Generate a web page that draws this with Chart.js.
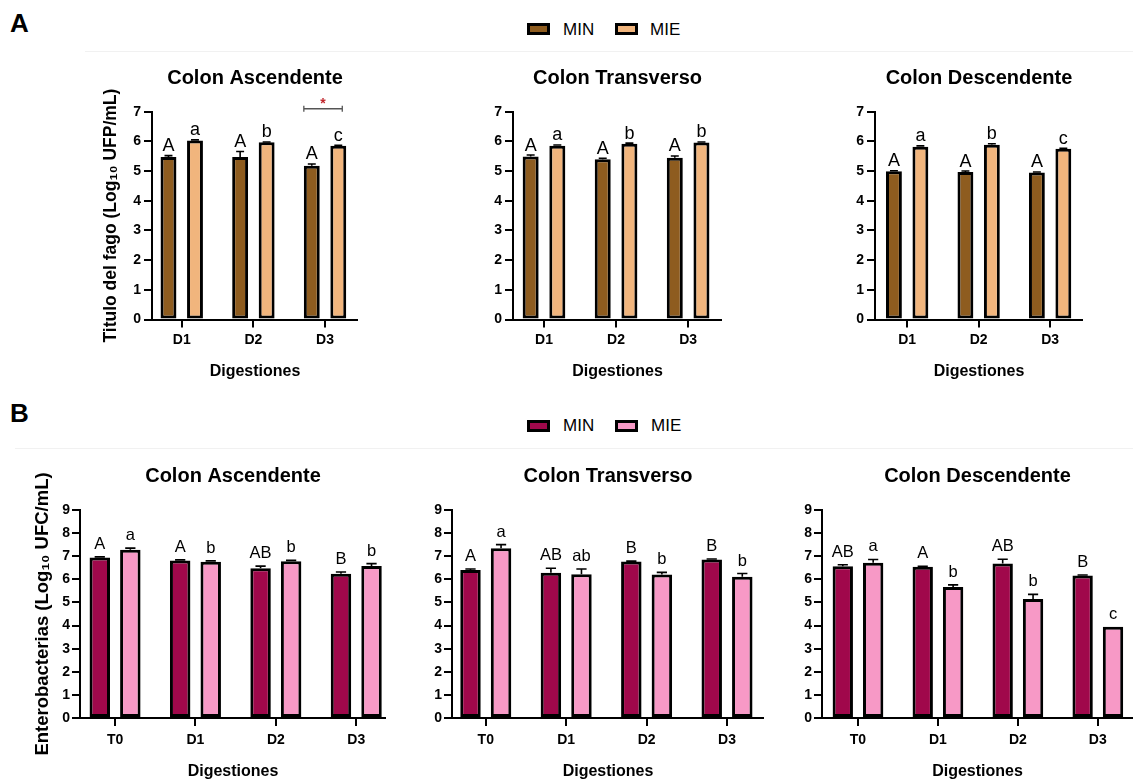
<!DOCTYPE html>
<html>
<head>
<meta charset="utf-8">
<script src="https://cdn.jsdelivr.net/npm/chart.js@4.4.1/dist/chart.umd.min.js"></script>
<style>
  html, body { margin: 0; padding: 0; background: #fff; }
  body { width: 1133px; height: 782px; position: relative; overflow: hidden;
         font-family: "Liberation Sans", Arial, sans-serif; color: #000; }
  canvas { position: absolute; }
  .panel { position: absolute; font-weight: bold; font-size: 26px; line-height: 1; }
  .sw { position: absolute; box-sizing: border-box; width: 23px; height: 12px; border: 3px solid #000; }
  .lt { position: absolute; font-size: 17px; line-height: 1; }
  .rule { position: absolute; height: 1px; background: #f1f1f1; }
</style>
</head>
<body>
<div class="rule" style="left:85px; top:51px; width:1048px;"></div>
<div class="rule" style="left:15px; top:448px; width:1118px;"></div>

<div class="panel" style="left:10px; top:10px;">A</div>
<div class="panel" style="left:10px; top:400px;">B</div>

<div class="sw" style="left:527px; top:23px; background:#8E5C1F;"></div>
<div class="lt" style="left:563px; top:21px;">MIN</div>
<div class="sw" style="left:615px; top:23px; background:#F1B57D;"></div>
<div class="lt" style="left:650px; top:21px;">MIE</div>

<div class="sw" style="left:527px; top:420px; background:#A0084B;"></div>
<div class="lt" style="left:563px; top:417px;">MIN</div>
<div class="sw" style="left:615px; top:420px; background:#F799C6;"></div>
<div class="lt" style="left:651px; top:417px;">MIE</div>

<canvas id="a1"></canvas>
<canvas id="a2"></canvas>
<canvas id="a3"></canvas>
<canvas id="b1"></canvas>
<canvas id="b2"></canvas>
<canvas id="b3"></canvas>

<script>
const FAMILY = '"Liberation Sans", Arial, sans-serif';

// ---- Phage titre (Log10 UFP/mL) ----
const digestionesA = ['D1', 'D2', 'D3'];

const fagoAscMIN    = [5.47, 5.47, 5.18];
const fagoAscMINsem = [0.05, 0.19, 0.06];
const fagoAscMIE    = [6.03, 5.97, 5.85];
const fagoAscMIEsem = [0.02, 0.01, 0.02];
const fagoAscMINlet = ['A', 'A', 'A'];
const fagoAscMIElet = ['a', 'b', 'c'];

const fagoTraMIN    = [5.49, 5.40, 5.45];
const fagoTraMINsem = [0.05, 0.03, 0.06];
const fagoTraMIE    = [5.85, 5.92, 5.96];
const fagoTraMIEsem = [0.03, 0.02, 0.02];
const fagoTraMINlet = ['A', 'A', 'A'];
const fagoTraMIElet = ['a', 'b', 'b'];

const fagoDesMIN    = [4.99, 4.97, 4.95];
const fagoDesMINsem = [0.02, 0.03, 0.02];
const fagoDesMIE    = [5.82, 5.89, 5.75];
const fagoDesMIEsem = [0.03, 0.03, 0.02];
const fagoDesMINlet = ['A', 'A', 'A'];
const fagoDesMIElet = ['a', 'b', 'c'];

// ---- Enterobacteria (Log10 UFC/mL) ----
const digestionesB = ['T0', 'D1', 'D2', 'D3'];

const entAscMIN    = [6.95, 6.82, 6.48, 6.24];
const entAscMINsem = [0.02, 0.02, 0.09, 0.08];
const entAscMIE    = [7.28, 6.76, 6.78, 6.58];
const entAscMIEsem = [0.07, 0.04, 0.04, 0.10];
const entAscMINlet = ['A', 'A', 'AB', 'B'];
const entAscMIElet = ['a', 'b', 'b', 'b'];

const entTraMIN    = [6.40, 6.28, 6.77, 6.86];
const entTraMINsem = [0.05, 0.20, 0.02, 0.02];
const entTraMIE    = [7.35, 6.22, 6.21, 6.11];
const entTraMIEsem = [0.15, 0.23, 0.09, 0.14];
const entTraMINlet = ['A', 'AB', 'B', 'B'];
const entTraMIElet = ['a', 'ab', 'b', 'b'];

const entDesMIN    = [6.57, 6.54, 6.69, 6.17];
const entDesMINsem = [0.06, 0.02, 0.18, 0.02];
const entDesMIE    = [6.72, 5.67, 5.15, 3.95];
const entDesMIEsem = [0.14, 0.09, 0.20, 0.00];
const entDesMINlet = ['AB', 'A', 'AB', 'B'];
const entDesMIElet = ['a', 'b', 'b', 'c'];

// significance bracket between MIN and MIE (colon ascendente, D3)
const fagoAscBracket = { index: 2, level: 7.1, mark: '*' };

// Error bars, letters of significance and the optional bracket
const barNotes = {
  id: 'barNotes',
  afterDatasetsDraw(chart, args, opts) {
    const ctx = chart.ctx;
    const yScale = chart.scales.y;
    ctx.save();
    chart.data.datasets.forEach((ds, di) => {
      const meta = chart.getDatasetMeta(di);
      meta.data.forEach((bar, i) => {
        const v = ds.data[i].y;
        const e = ds.errors[i] || 0;
        const yTop = yScale.getPixelForValue(v + e);
        if (e > 0) {
          const cap = bar.width * 0.5;
          ctx.strokeStyle = '#000';
          ctx.lineWidth = 1.6;
          ctx.beginPath();
          ctx.moveTo(bar.x, bar.y);
          ctx.lineTo(bar.x, yTop);
          ctx.moveTo(bar.x - cap / 2, yTop);
          ctx.lineTo(bar.x + cap / 2, yTop);
          ctx.stroke();
        }
        ctx.fillStyle = '#000';
        ctx.font = opts.letterSize + 'px ' + FAMILY;
        ctx.textAlign = 'center';
        ctx.textBaseline = 'alphabetic';
        ctx.fillText(ds.letters[i], bar.x, yTop - opts.letterGap);
      });
    });
    const br = opts.bracket;
    if (br) {
      const b0 = chart.getDatasetMeta(0).data[br.index];
      const b1 = chart.getDatasetMeta(1).data[br.index];
      const x1 = b0.x - b0.width / 2;
      const x2 = b1.x + b1.width / 4;
      const yl = yScale.getPixelForValue(br.level);
      ctx.strokeStyle = '#555';
      ctx.lineWidth = 1.3;
      ctx.beginPath();
      ctx.moveTo(x1, yl); ctx.lineTo(x2, yl);
      ctx.moveTo(x1, yl - 3); ctx.lineTo(x1, yl + 3);
      ctx.moveTo(x2, yl - 3); ctx.lineTo(x2, yl + 3);
      ctx.stroke();
      ctx.fillStyle = '#C1272D';
      ctx.font = 'bold 14px ' + FAMILY;
      ctx.textAlign = 'center';
      ctx.textBaseline = 'alphabetic';
      ctx.fillText(br.mark, (x1 + x2) / 2, yl - 1);
    }
    ctx.restore();
  }
};

function buildPanel(p) {
  const cv = document.getElementById(p.id);
  cv.width = p.width; cv.height = p.height;
  cv.style.left = p.left + 'px'; cv.style.top = p.top + 'px';
  cv.style.width = p.width + 'px'; cv.style.height = p.height + 'px';

  const mk = (label, vals, errs, lets, color) => ({
    label,
    data: p.cats.map((c, i) => ({ x: i, y: vals[i] })),
    errors: errs,
    letters: lets,
    backgroundColor: color,
    borderColor: '#000',
    borderWidth: 3,
    borderSkipped: false,
    categoryPercentage: p.catPct,
    barPercentage: p.barPct
  });

  const tickFont = { family: FAMILY, size: 14, weight: 'bold' };

  new Chart(cv, {
    type: 'bar',
    data: {
      datasets: [
        mk('MIN', p.min, p.minErr, p.minLet, p.colors[0]),
        mk('MIE', p.mie, p.mieErr, p.mieLet, p.colors[1])
      ]
    },
    options: {
      responsive: false,
      animation: false,
      devicePixelRatio: 1,
      layout: { padding: 0 },
      plugins: {
        legend: { display: false },
        tooltip: { enabled: false },
        title: {
          display: true,
          text: p.title,
          fullSize: false,
          color: '#000',
          font: { family: FAMILY, size: 20, weight: 'bold' },
          padding: { top: p.titlePad[0], bottom: p.titlePad[1] }
        },
        barNotes: {
          letterGap: p.letterGap,
          letterSize: p.letterSize,
          bracket: p.bracket || null
        }
      },
      scales: {
        x: {
          type: 'linear',
          offset: false,
          min: p.xr[0], max: p.xr[1],
          afterBuildTicks: s => { s.ticks = p.cats.map((c, i) => ({ value: i })); },
          afterFit: s => { s.height = p.xH; },
          ticks: {
            callback: v => p.cats[v],
            font: tickFont, color: '#000', padding: p.xTickPad,
            autoSkip: false, maxRotation: 0
          },
          grid: { offset: false, drawOnChartArea: false, drawTicks: true, tickLength: 8, color: '#000', lineWidth: 2 },
          border: { display: true, color: '#000', width: 2 },
          title: {
            display: true, text: 'Digestiones', color: '#000',
            font: { family: FAMILY, size: 16, weight: 'bold' },
            padding: { top: 0, bottom: 0 }
          }
        },
        y: {
          min: 0, max: p.yMax,
          afterFit: s => { s.width = p.yW; },
          ticks: { stepSize: 1, font: tickFont, color: '#000', padding: p.yTickPad },
          grid: { drawOnChartArea: false, drawTicks: true, tickLength: 8, color: '#000', lineWidth: 2 },
          border: { display: true, color: '#000', width: 2 },
          title: {
            display: !!p.yTitle, text: p.yTitle || '', color: '#000',
            font: { family: FAMILY, size: p.yTitleSize || 17, weight: 'bold' },
            padding: { top: p.yTitlePad || 0, bottom: 0 }
          }
        }
      }
    },
    plugins: [barNotes]
  });
}

const colA = ['#8E5C1F', '#F1B57D'];
const colB = ['#A0084B', '#F799C6'];

const commonA = {
  top: 50, height: 331, cats: digestionesA, colors: colA, yMax: 7,
  xH: 61.5, titlePad: [16, 21.7], xTickPad: 4, yTickPad: 3,
  letterGap: 4.5, letterSize: 18, catPct: 0.74, barPct: 0.6
};
const commonB = {
  top: 445, height: 336, cats: digestionesB, colors: colB, yMax: 9,
  xH: 63, titlePad: [19, 22], xTickPad: 6, yTickPad: 2,
  letterGap: 8, letterSize: 16.5, catPct: 0.76, barPct: 0.67
};

buildPanel(Object.assign({}, commonA, {
  id: 'a1', left: 90, width: 268, yW: 62, xr: [-0.415, 2.46],
  title: 'Colon Ascendente',
  yTitle: 'Titulo del fago (Log\u2081\u2080 UFP/mL)', yTitleSize: 17.5, yTitlePad: 10.5,
  min: fagoAscMIN, minErr: fagoAscMINsem, minLet: fagoAscMINlet,
  mie: fagoAscMIE, mieErr: fagoAscMIEsem, mieLet: fagoAscMIElet,
  bracket: fagoAscBracket
}));
buildPanel(Object.assign({}, commonA, {
  id: 'a2', left: 473, width: 249, yW: 40, xr: [-0.43, 2.47],
  title: 'Colon Transverso',
  min: fagoTraMIN, minErr: fagoTraMINsem, minLet: fagoTraMINlet,
  mie: fagoTraMIE, mieErr: fagoTraMIEsem, mieLet: fagoTraMIElet
}));
buildPanel(Object.assign({}, commonA, {
  id: 'a3', left: 835, width: 248, yW: 40, xr: [-0.45, 2.46],
  title: 'Colon Descendente',
  min: fagoDesMIN, minErr: fagoDesMINsem, minLet: fagoDesMINlet,
  mie: fagoDesMIE, mieErr: fagoDesMIEsem, mieLet: fagoDesMIElet
}));

buildPanel(Object.assign({}, commonB, {
  id: 'b1', left: 20, width: 366, yW: 60, xr: [-0.436, 3.37],
  title: 'Colon Ascendente',
  yTitle: 'Enterobacterias (Log\u2081\u2080 UFC/mL)', yTitleSize: 18.5, yTitlePad: 11.4,
  min: entAscMIN, minErr: entAscMINsem, minLet: entAscMINlet,
  mie: entAscMIE, mieErr: entAscMIEsem, mieLet: entAscMIElet
}));
buildPanel(Object.assign({}, commonB, {
  id: 'b2', left: 417, width: 347, yW: 35, xr: [-0.42, 3.46],
  title: 'Colon Transverso',
  min: entTraMIN, minErr: entTraMINsem, minLet: entTraMINlet,
  mie: entTraMIE, mieErr: entTraMIEsem, mieLet: entTraMIElet
}));
buildPanel(Object.assign({}, commonB, {
  id: 'b3', left: 787, width: 346, yW: 35, xr: [-0.45, 3.44],
  title: 'Colon Descendente',
  min: entDesMIN, minErr: entDesMINsem, minLet: entDesMINlet,
  mie: entDesMIE, mieErr: entDesMIEsem, mieLet: entDesMIElet
}));
</script>
</body>
</html>
